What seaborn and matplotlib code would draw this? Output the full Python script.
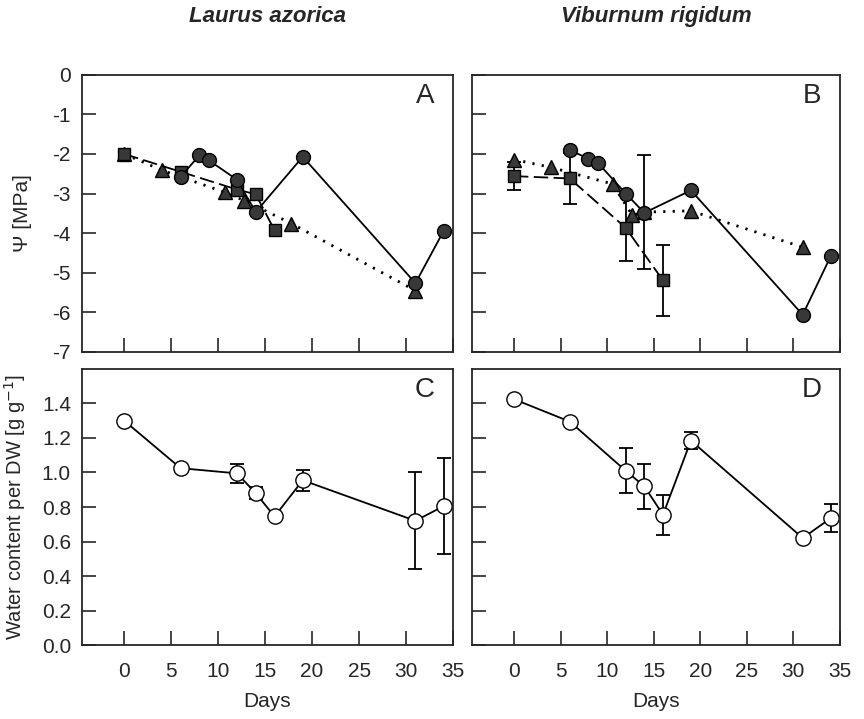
import numpy as np
import pandas as pd
import seaborn as sns
import matplotlib.pyplot as plt

# A: Laurus azorica, water potential (MPa)
a_circ_day = [6, 8, 9, 12, 14, 19, 31, 34]
a_circ_psi = [-2.58, -2.03, -2.16, -2.65, -3.47, -2.07, -5.27, -3.95]
a_sq_day = [0, 6, 12, 14, 16]
a_sq_psi = [-2.0, -2.45, -2.9, -3.02, -3.93]
a_tri_day = [0, 4, 10.7, 12.8, 17.8, 31]
a_tri_psi = [-2.0, -2.41, -2.97, -3.18, -3.76, -5.46]

# B: Viburnum rigidum, water potential (MPa)
b_circ_day = [6, 8, 9, 12, 14, 19, 31, 34]
b_circ_psi = [-1.9, -2.12, -2.22, -3.0, -3.49, -2.92, -6.07, -4.59]
b_sq_day = [0, 6, 12, 16]
b_sq_psi = [-2.56, -2.62, -3.87, -5.2]
b_sq_err = [0.35, 0.65, 0.83, 0.9]
b_tri_day = [0, 4, 10.6, 12.7, 14, 19, 31]
b_tri_psi = [-2.14, -2.34, -2.76, -3.55, -3.47, -3.44, -4.36]
b_tri_err = [np.nan, np.nan, np.nan, np.nan, 1.44, np.nan, np.nan]

# C / D: water content per dry weight
wc_day = [0, 6, 12, 14, 16, 19, 31, 34]
c_wc = [1.30, 1.025, 0.995, 0.88, 0.745, 0.955, 0.72, 0.805]
c_err = [np.nan, np.nan, 0.055, 0.035, np.nan, 0.06, 0.28, 0.28]
d_wc = [1.425, 1.295, 1.01, 0.92, 0.755, 1.185, 0.62, 0.735]
d_err = [np.nan, np.nan, 0.13, 0.13, 0.115, 0.05, np.nan, 0.08]

sns.set_style('ticks')
plt.rcParams['font.family'] = ['Liberation Sans', 'DejaVu Sans']
plt.rcParams['axes.unicode_minus'] = False
plt.rcParams['axes.linewidth'] = 1.3

fig = plt.figure(figsize=(8.64, 7.19), dpi=100)
ax_a = fig.add_axes([0.0949, 0.5111, 0.4294, 0.3846])
ax_b = fig.add_axes([0.5463, 0.5111, 0.4259, 0.3846])
ax_c = fig.add_axes([0.0949, 0.1029, 0.4294, 0.3839])
ax_d = fig.add_axes([0.5463, 0.1029, 0.4259, 0.3839])

fill = '#383838'
solid = dict(marker='o', markersize=10, linestyle='-', lw=1.3)
dashed = dict(marker='s', markersize=9, linestyle=(0, (8, 3)), lw=1.3)
dotted = dict(marker='^', markersize=10, linestyle=(0, (0.8, 2.6)), lw=2.0)


def draw(ax, x, y, style, face=fill):
    sns.lineplot(x=x, y=y, ax=ax, sort=False, estimator=None, color='black',
                 markerfacecolor=face, markeredgecolor='black',
                 markeredgewidth=1.0, **style)


def errbars(ax, x, y, err):
    x, y, err = np.array(x), np.array(y), np.array(err)
    m = ~np.isnan(err)
    ax.errorbar(x[m], y[m], yerr=err[m], fmt='none', ecolor='black',
                elinewidth=1.3, capsize=5, capthick=1.3, zorder=1.5)


draw(ax_a, a_tri_day, a_tri_psi, dotted)
draw(ax_a, a_sq_day, a_sq_psi, dashed)
draw(ax_a, a_circ_day, a_circ_psi, solid)

draw(ax_b, b_tri_day, b_tri_psi, dotted)
errbars(ax_b, b_tri_day, b_tri_psi, b_tri_err)
draw(ax_b, b_sq_day, b_sq_psi, dashed)
errbars(ax_b, b_sq_day, b_sq_psi, b_sq_err)
draw(ax_b, b_circ_day, b_circ_psi, solid)

open_style = dict(marker='o', markersize=11, linestyle='-', lw=1.3)
draw(ax_c, wc_day, c_wc, open_style, face='white')
errbars(ax_c, wc_day, c_wc, c_err)
draw(ax_d, wc_day, d_wc, open_style, face='white')
errbars(ax_d, wc_day, d_wc, d_err)

for ax in [ax_a, ax_b, ax_c, ax_d]:
    ax.set_xlim(-4.5, 35)
    ax.set_xticks([0, 5, 10, 15, 20, 25, 30, 35])
    ax.tick_params(direction='in', length=10, width=1.2, labelsize=15,
                   top=False, right=False)
    ax.tick_params(axis='x', pad=12)
    ax.tick_params(axis='y', pad=8)
    ax.set_xlabel('')
    ax.set_ylabel('')
    for s in ax.spines.values():
        s.set_visible(True)
        s.set_linewidth(1.3)

for ax in [ax_a, ax_b]:
    ax.set_ylim(-7, 0)
    ax.set_yticks(range(-7, 1))
    ax.tick_params(labelbottom=False)
for ax in [ax_c, ax_d]:
    ax.set_ylim(0, 1.6)
    ax.set_yticks(np.arange(0, 1.41, 0.2))
    ax.set_xlabel('Days', fontsize=15)
    ax.xaxis.set_label_coords(0.5, -0.17)
for ax in [ax_b, ax_d]:
    ax.tick_params(labelleft=False)

ax_a.set_yticklabels([str(v) for v in range(-7, 1)])
ax_c.set_yticklabels([f'{v:.1f}' for v in np.arange(0, 1.41, 0.2)])

ax_a.set_ylabel('\u03A8 [MPa]', fontsize=15)
ax_a.yaxis.set_label_coords(-0.135, 0.5)
ax_c.set_ylabel('Water content per DW [g g$^{-1}$]', fontsize=14.5)
ax_c.yaxis.set_label_coords(-0.145, 0.5)

for ax, letter in zip([ax_a, ax_b, ax_c, ax_d], 'ABCD'):
    ax.text(0.95, 0.925, letter, transform=ax.transAxes, ha='right', va='center',
            fontsize=20)

ax_a.set_title('Laurus azorica', fontsize=16, fontweight='bold', style='italic',
               pad=38)
ax_b.set_title('Viburnum rigidum', fontsize=16, fontweight='bold', style='italic',
               pad=38)

fig.savefig('out.png', dpi=100)
